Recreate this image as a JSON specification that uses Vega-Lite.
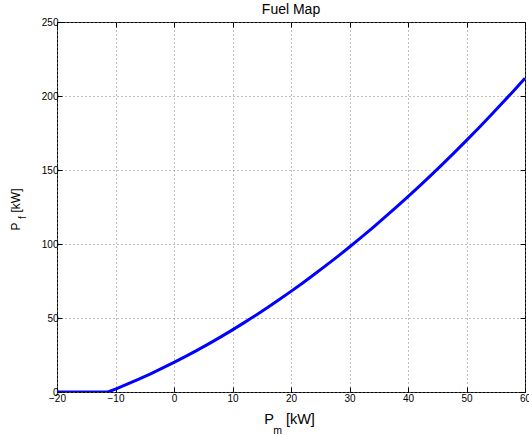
{
  "$schema": "https://vega.github.io/schema/vega-lite/v6.json",
  "width": 468,
  "height": 370,
  "autosize": {"type": "none"},
  "padding": {"left": 57, "top": 22, "right": 4, "bottom": 43},
  "background": "white",
  "title": {"text": "Fuel Map", "fontSize": 14, "font": "Liberation Sans", "fontWeight": "normal", "color": "black", "anchor": "middle", "frame": "group", "offset": 7, "baseline": "alphabetic", "dy": 18},
  "config": {
    "view": {"stroke": "black", "strokeWidth": 1},
    "axis": {"labelFont": "Liberation Sans", "titleFont": "Liberation Sans", "labelColor": "black", "titleColor": "black", "titleFontWeight": "normal", "domainColor": "black", "tickColor": "black", "gridColor": "#808080", "gridDash": [1, 3], "gridOpacity": 1}
  },
  "data": {"values": [
    {"pm": -20, "pf": 0}, {"pm": -11.27, "pf": 0}, {"pm": -10, "pf": 2}, {"pm": -8, "pf": 5.28},
    {"pm": -6, "pf": 8.72}, {"pm": -4, "pf": 12.32}, {"pm": -2, "pf": 16.08}, {"pm": 0, "pf": 20},
    {"pm": 2, "pf": 24.08}, {"pm": 4, "pf": 28.32}, {"pm": 6, "pf": 32.72}, {"pm": 8, "pf": 37.28},
    {"pm": 10, "pf": 42}, {"pm": 12, "pf": 46.88}, {"pm": 14, "pf": 51.92}, {"pm": 16, "pf": 57.12},
    {"pm": 18, "pf": 62.48}, {"pm": 20, "pf": 68}, {"pm": 22, "pf": 73.68}, {"pm": 24, "pf": 79.52},
    {"pm": 26, "pf": 85.52}, {"pm": 28, "pf": 91.68}, {"pm": 30, "pf": 98}, {"pm": 32, "pf": 104.48},
    {"pm": 34, "pf": 111.12}, {"pm": 36, "pf": 117.92}, {"pm": 38, "pf": 124.88}, {"pm": 40, "pf": 132},
    {"pm": 42, "pf": 139.28}, {"pm": 44, "pf": 146.72}, {"pm": 46, "pf": 154.32}, {"pm": 48, "pf": 162.08},
    {"pm": 50, "pf": 170}, {"pm": 52, "pf": 178.08}, {"pm": 54, "pf": 186.32}, {"pm": 56, "pf": 194.72},
    {"pm": 58, "pf": 203.28}, {"pm": 60, "pf": 212}
  ]},
  "resolve": {"axis": {"x": "independent", "y": "independent"}},
  "layer": [
    {
      "mark": {"type": "line", "color": "#0000ff", "strokeWidth": 3, "clip": true},
      "encoding": {
        "x": {"field": "pm", "type": "quantitative", "scale": {"domain": [-20, 60], "nice": false, "zero": false},
          "axis": {"orient": "bottom", "values": [-20, -10, 0, 10, 20, 30, 40, 50, 60], "labelFontSize": 10, "labelPadding": 6, "tickSize": -5, "domain": false, "grid": true,
            "title": "P\u00a0\u00a0\u00a0[kW]", "titleFontSize": 14.5, "titleX": 232, "titleY": 31, "titleBaseline": "alphabetic", "titleAlign": "center", "labelFlush": false}},
        "y": {"field": "pf", "type": "quantitative", "scale": {"domain": [0, 250], "nice": false},
          "axis": {"orient": "left", "values": [0, 50, 100, 150, 200, 250], "labelFontSize": 10, "labelPadding": 4, "tickSize": -5, "domain": false, "grid": true,
            "title": "P\u00a0\u00a0\u00a0[kW]", "titleFontSize": 12, "titleAngle": -90, "titleX": -37.5, "titleY": 187, "titleBaseline": "alphabetic", "titleAlign": "center", "labelFlush": false}}
      }
    },
    {
      "mark": {"type": "line", "strokeOpacity": 0},
      "encoding": {
        "x": {"field": "pm", "type": "quantitative", "scale": {"domain": [-20, 60], "nice": false, "zero": false},
          "axis": {"orient": "top", "values": [-20, -10, 0, 10, 20, 30, 40, 50, 60], "labels": false, "tickSize": -5, "domain": false, "grid": false,
            "title": "m", "titleFontSize": 10.5, "titleX": 220, "titleY": 411, "titleBaseline": "alphabetic", "titleAlign": "center"}},
        "y": {"field": "pf", "type": "quantitative", "scale": {"domain": [0, 250], "nice": false},
          "axis": {"orient": "right", "values": [0, 50, 100, 150, 200, 250], "labels": false, "tickSize": -5, "domain": false, "grid": false,
            "title": "f", "titleFontSize": 10, "titleAngle": -90, "titleX": -500, "titleY": 195, "titleBaseline": "alphabetic", "titleAlign": "center"}}
      }
    }
  ]
}
